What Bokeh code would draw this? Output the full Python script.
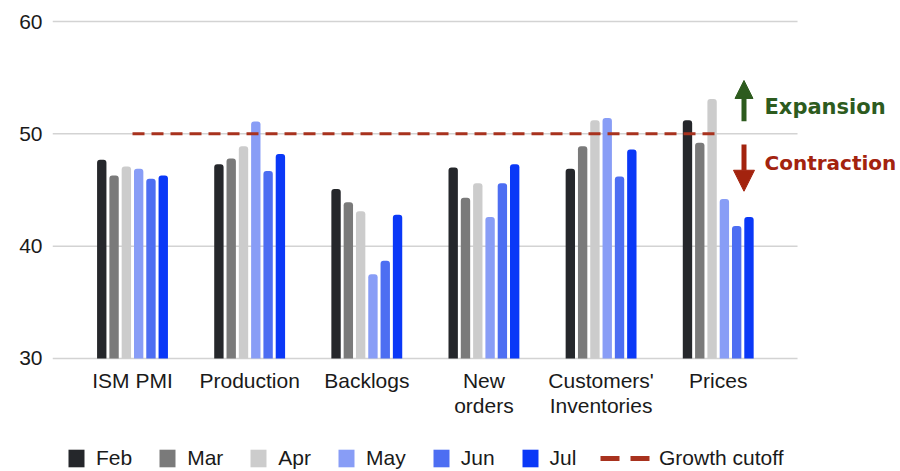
from bokeh.plotting import figure
from bokeh.models import (ColumnDataSource, Range1d, Legend, LegendItem,
                          Arrow, NormalHead, Label, FixedTicker)
from bokeh.core.properties import value
from bokeh.embed import file_html
from bokeh.resources import INLINE

# ---- data ----
categories = ["ISM PMI", "Production", "Backlogs", "New\norders",
              "Customers'\nInventories", "Prices"]
months = ["Feb", "Mar", "Apr", "May", "Jun", "Jul"]
feb = [47.7, 47.3, 45.1, 47.0, 46.9, 51.2]
mar = [46.3, 47.8, 43.9, 44.3, 48.9, 49.2]
apr = [47.1, 48.9, 43.1, 45.6, 51.2, 53.1]
may = [46.9, 51.1, 37.5, 42.6, 51.4, 44.2]
jun = [46.0, 46.7, 38.7, 45.6, 46.2, 41.8]
jul = [46.3, 48.2, 42.8, 47.3, 48.6, 42.6]
growth_cutoff = 50
y_ticks = [30, 40, 50, 60]
y_min, y_max = 30, 60

colors = ["#25272b", "#7a7a7a", "#cccccc", "#889df6", "#4d6ef2", "#0a38f7"]
cut_color = "#a8321e"
green = "#2d5b1e"
red = "#a3230e"
FONT = "Liberation Sans"
TXT = "#1a1a1a"

idx = list(range(len(categories)))
series = dict(Feb=feb, Mar=mar, Apr=apr, May=may, Jun=jun, Jul=jul)

# plot window (layout only): frame covers the canvas right of the y axis
x_lo, x_hi = -0.683, 6.556          # category index units
y_lo, y_hi = 19.94, 61.87           # value units
grid_x0, grid_x1 = -0.683, 5.677

p = figure(width=900, height=471, output_backend="svg", toolbar_location=None,
           x_range=Range1d(x_lo, x_hi), y_range=Range1d(y_lo, y_hi),
           min_border_left=52, min_border_right=0,
           min_border_top=0, min_border_bottom=0)
p.outline_line_color = None
p.xgrid.grid_line_color = None
p.ygrid.grid_line_color = None
p.xaxis.visible = False

p.yaxis.ticker = FixedTicker(ticks=y_ticks)
p.yaxis.axis_line_color = None
p.yaxis.major_tick_line_color = None
p.yaxis.minor_tick_line_color = None
p.yaxis.major_tick_in = 0
p.yaxis.major_tick_out = 0
p.yaxis.major_label_text_font = FONT
p.yaxis.major_label_text_font_size = "21px"
p.yaxis.major_label_text_color = TXT
p.yaxis.major_label_standoff = 10

# horizontal gridlines at the y ticks
p.segment(x0=grid_x0, x1=grid_x1, y0=y_ticks, y1=y_ticks,
          line_color="#d3d3d3", line_width=1.5)

pitch = 0.105
renderers = []
for i, m in enumerate(months):
    src = ColumnDataSource(dict(x=[k + (i - 2.5) * pitch for k in idx], top=series[m]))
    r = p.vbar(x="x", top="top", bottom=y_min, width=0.08, source=src,
               fill_color=colors[i], line_color=None, border_radius=(3, 3, 0, 0))
    renderers.append(r)

# category labels under the baseline
p.text(x=idx, y=[y_min] * len(idx), text=categories, y_offset=11,
       text_align="center", text_baseline="top", text_font=value(FONT),
       text_font_size="21px", text_color=TXT, text_line_height=1.07)

p.line(x=[idx[0], idx[-1]], y=[growth_cutoff, growth_cutoff],
       line_color=cut_color, line_width=3, line_dash="12 7")
# legend-only swatch (kept outside the visible window)
legend_swatch = p.line(x=[idx[0], idx[1]], y=[y_lo - 10, y_lo - 10],
                       line_color=cut_color, line_width=5, line_dash="19 11")

common = dict(orientation="horizontal", glyph_height=22, padding=0, margin=0,
              border_line_color=None, background_fill_alpha=0,
              label_text_font=FONT, label_text_font_size="21px",
              label_text_color=TXT)
leg1 = Legend(items=[LegendItem(label=m, renderers=[r]) for m, r in zip(months, renderers)],
              location=(14, 1), glyph_width=20, label_standoff=10, spacing=25, **common)
leg2 = Legend(items=[LegendItem(label="Growth cutoff", renderers=[legend_swatch])],
              location=(548, 1), glyph_width=50, label_standoff=9, **common)
p.add_layout(leg1)
p.add_layout(leg2)

arrow_x = 5.220
p.add_layout(Arrow(end=NormalHead(size=18, fill_color=green, line_color=green),
                   x_start=arrow_x, y_start=51.13, x_end=arrow_x, y_end=54.75,
                   line_color=green, line_width=5))
p.add_layout(Arrow(end=NormalHead(size=21, fill_color=red, line_color=red),
                   x_start=arrow_x, y_start=49.05, x_end=arrow_x, y_end=44.89,
                   line_color=red, line_width=5))
p.add_layout(Label(x=5.395, y=52.43, text="Expansion", text_font="DejaVu Sans",
                   text_font_style="bold", text_font_size="21px", text_color=green,
                   text_baseline="middle"))
p.add_layout(Label(x=5.395, y=47.36, text="Contraction", text_font="DejaVu Sans",
                   text_font_style="bold", text_font_size="20px", text_color=red,
                   text_baseline="middle"))

open("out.html", "w").write(file_html(p, INLINE))
